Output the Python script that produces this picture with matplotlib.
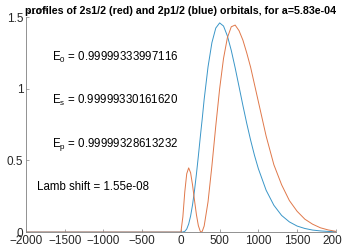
import numpy as np
import matplotlib.pyplot as plt

plt.rcParams['font.family'] = ['Liberation Sans', 'DejaVu Sans']
plt.rcParams['mathtext.fontset'] = 'custom'
plt.rcParams['mathtext.rm'] = 'Liberation Sans'

# radius grid
r = [-2000, 0, 25, 50, 75, 100, 125, 150, 175, 200, 225, 250, 262, 275, 300, 350, 400,
     450, 500, 550, 600, 650, 700, 750, 800, 850, 900, 950, 1000, 1100, 1200,
     1300, 1400, 1500, 1600, 1700, 1800, 1900, 2000]

# 2p1/2 (blue)
p_vals = [0, 0, 0.0004, 0.005, 0.021, 0.056, 0.112, 0.19, 0.289, 0.404, 0.53, 0.663, 0.725,
          0.79, 0.926, 1.153, 1.322, 1.424, 1.46, 1.438, 1.369, 1.268, 1.147, 1.016,
          0.884, 0.758, 0.641, 0.535, 0.442, 0.292, 0.187, 0.116, 0.071, 0.042,
          0.025, 0.014, 0.008, 0.0045, 0.0025]

# 2s1/2 (red)
s_vals = [0, 0, 0.106, 0.281, 0.407, 0.448, 0.414, 0.329, 0.223, 0.122, 0.045, 0.005, 0,
          0.005, 0.042, 0.211, 0.462, 0.741, 1.001, 1.212, 1.357, 1.433, 1.445, 1.406,
          1.34, 1.25, 1.15, 1.03, 0.91, 0.67, 0.47, 0.33, 0.22, 0.145, 0.09, 0.055,
          0.03, 0.015, 0.005]

labels = [r'E$_\mathrm{0}$ = 0.99999333997116', r'E$_\mathrm{s}$ = 0.99999330161620',
          r'E$_\mathrm{p}$ = 0.99999328613232', 'Lamb shift = 1.55e-08']

fig = plt.figure(figsize=(3.42, 2.49), dpi=100)
ax = fig.add_axes([0.076, 0.068, 0.906, 0.863])

ax.plot(r, p_vals, color='#3A96C8', lw=0.7)
ax.plot(r, s_vals, color='#E0784A', lw=0.7)

ax.set_xlim(-2000, 2000)
ax.set_ylim(0, 1.5)
ax.set_xticks(np.arange(-2000, 2001, 500))
ax.set_yticks([0, 0.5, 1, 1.5])
ax.set_yticklabels(['0', '0.5', '1', '1.5'])
for s in ['top', 'right']:
    ax.spines[s].set_visible(False)
for s in ['left', 'bottom']:
    ax.spines[s].set_color('#808080')
    ax.spines[s].set_linewidth(0.6)
ax.tick_params(direction='in', length=2, width=0.5, colors='#808080',
               labelcolor='#262626', labelsize=8.5, pad=2)

ax.text(-1660, 1.195, labels[0], fontsize=8.3)
ax.text(-1660, 0.895, labels[1], fontsize=8.3)
ax.text(-1660, 0.595, labels[2], fontsize=8.3)
ax.text(-1860, 0.295, labels[3], fontsize=8.3)

ax.text(0.0, 1.0, r'$\times10^{-3}$', transform=ax.transAxes, fontsize=6,
        color='#262626', va='bottom')
ax.set_title('profiles of 2s1/2 (red) and 2p1/2 (blue) orbitals, for a=5.83e-04',
             fontsize=7.7, fontweight='bold', pad=2)

fig.savefig('out.png', dpi=100)
